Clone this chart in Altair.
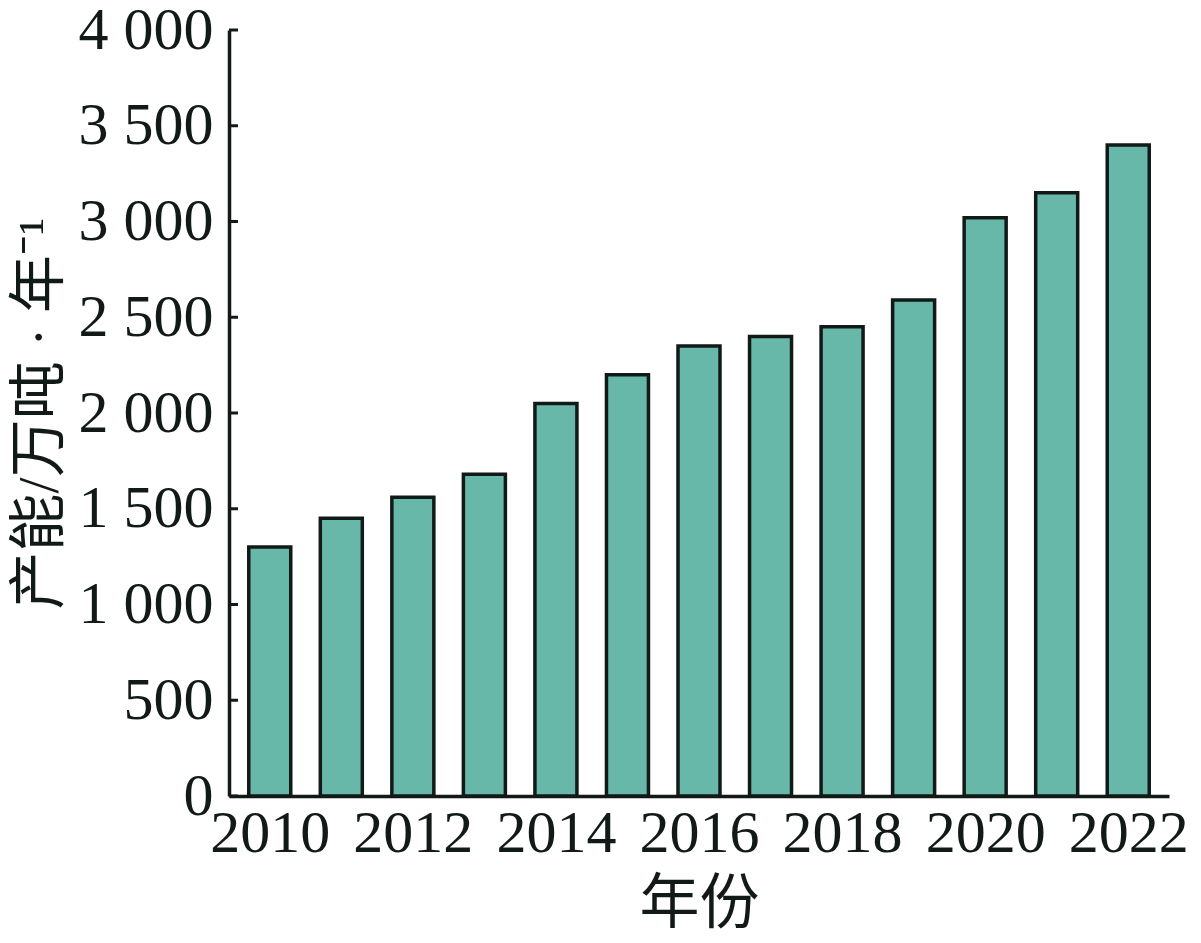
import altair as alt
import pandas as pd

years = [2010, 2011, 2012, 2013, 2014, 2015, 2016, 2017, 2018, 2019, 2020, 2021, 2022]
capacity = [1300, 1450, 1560, 1680, 2050, 2200, 2350, 2400, 2450, 2590, 3020, 3150, 3400]
y_ticks = [0, 500, 1000, 1500, 2000, 2500, 3000, 3500, 4000]
x_labels = [2010, 2012, 2014, 2016, 2018, 2020, 2022]

df = pd.DataFrame({"year": years, "capacity": capacity})
ticks_df = pd.DataFrame({"v": y_ticks})

LATIN = "Liberation Serif"
CJK = "Liberation Serif, Noto Sans CJK SC"
INK = "#121a18"

x_scale = alt.Scale(domain=[2009.5, 2022.5], nice=False, zero=False)
y_scale = alt.Scale(domain=[0, 4000], nice=False)

bars = alt.Chart(df).mark_bar(
    size=42, color="#67b8a8", stroke=INK, strokeWidth=3.5
).encode(
    x=alt.X("year:Q", scale=x_scale,
            axis=alt.Axis(title="年份", values=x_labels, format="d",
                          grid=False, ticks=False, labelFlush=False,
                          labelOverlap=False, labelPadding=8,
                          labelFont=LATIN, labelFontSize=60, labelColor=INK,
                          titleFont=CJK, titleFontSize=60, titleFontWeight="normal",
                          titleColor=INK, titlePadding=12,
                          domainColor=INK, domainWidth=3.5)),
    y=alt.Y("capacity:Q", scale=y_scale,
            axis=alt.Axis(title="产能/万吨 · 年⁻¹", values=y_ticks,
                          labelExpr="replace(format(datum.value, ',d'), ',', ' ')",
                          grid=False, ticks=False, labelPadding=16,
                          labelFont=LATIN, labelFontSize=60, labelColor=INK,
                          titleFont=CJK, titleFontSize=58, titleFontWeight="normal",
                          titleColor=INK, titlePadding=9,
                          domainColor=INK, domainWidth=3.5)),
)

tick_marks = alt.Chart(ticks_df).mark_rule(color=INK, strokeWidth=3).encode(
    y=alt.Y("v:Q", scale=y_scale),
    x=alt.value(0),
    x2=alt.value(9),
)

chart = alt.layer(bars, tick_marks).properties(
    width=940,
    height=766,
    background="white",
    autosize=alt.AutoSizeParams(type="none"),
    padding={"left": 221, "top": 22, "right": 24, "bottom": 139},
).configure_view(strokeWidth=0)

chart.save("out.html", embed_options={"renderer": "svg", "actions": False})
